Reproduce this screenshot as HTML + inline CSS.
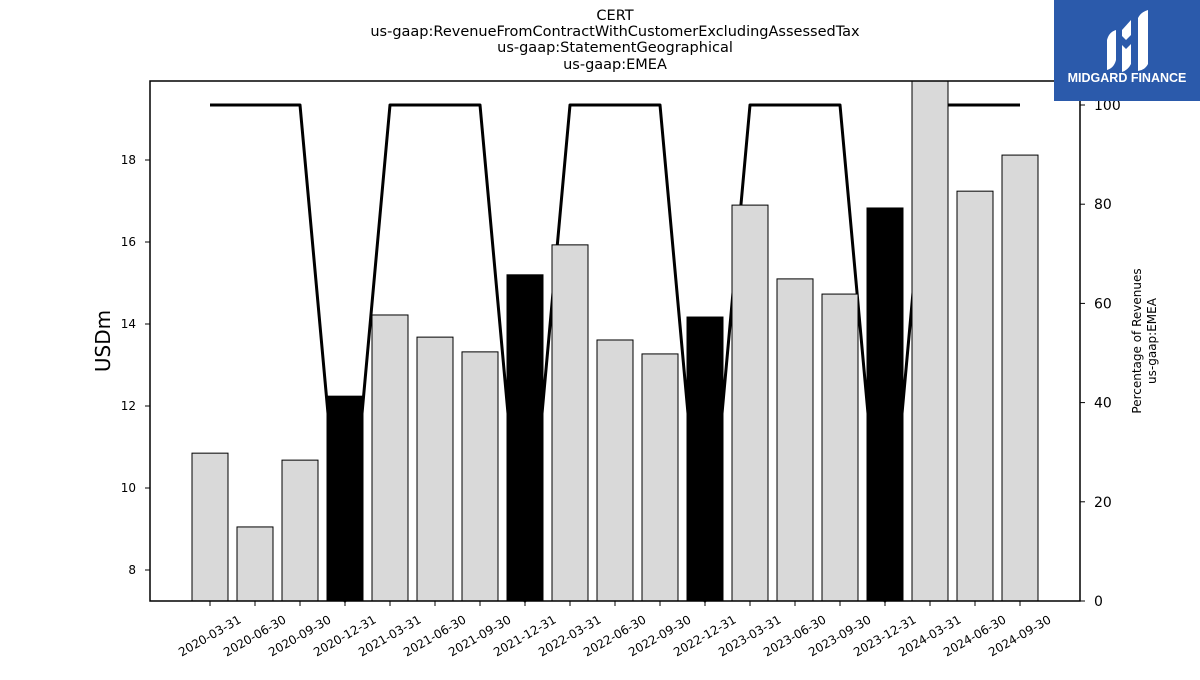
<!DOCTYPE html>
<html><head><meta charset="utf-8"><style>
body{margin:0;background:#fff;width:1200px;height:675px;overflow:hidden;font-family:"Liberation Sans","DejaVu Sans",sans-serif}
</style></head><body>
<svg id="chart" width="1200" height="675" xmlns="http://www.w3.org/2000/svg" font-family="DejaVu Sans, Liberation Sans, sans-serif">
<g font-size="14.5" text-anchor="middle" fill="#000">
<text x="615" y="20">CERT</text>
<text x="615" y="36">us-gaap:RevenueFromContractWithCustomerExcludingAssessedTax</text>
<text x="615" y="52">us-gaap:StatementGeographical</text>
<text x="615" y="69">us-gaap:EMEA</text>
</g>
<g id="line"></g><g id="bars"></g><g id="axes"></g>
<rect x="150" y="81" width="930" height="520" fill="none" stroke="#000" stroke-width="1.5"/>
<text x="110" y="341" font-size="20" text-anchor="middle" transform="rotate(-90 110 341)">USDm</text>
<g font-size="12" text-anchor="middle">
<text x="1141" y="341" transform="rotate(-90 1141 341)">Percentage of Revenues</text>
<text x="1156" y="341" transform="rotate(-90 1156 341)">us-gaap:EMEA</text>
</g>
<g>
<rect x="1054" y="0" width="146" height="101" fill="#2b5aab"/>
<path d="M1107 40 q2-8 9-10 v30 q-2 8-9 10z M1122 30 l9-10 v15 l-5 5 l-4-4z M1122 45 l4 4 l5-5 v20 q-3 6-9 8z M1138 18 q3-6 10-8 v54 q-3 6-10 7z" fill="#fff"/>
<text x="1127" y="82" font-size="12.5" font-weight="bold" fill="#fff" text-anchor="middle" font-family="Liberation Sans, sans-serif">MIDGARD FINANCE</text>
</g>
</svg>
<script>
const categories=["2020-03-31","2020-06-30","2020-09-30","2020-12-31","2021-03-31","2021-06-30","2021-09-30","2021-12-31","2022-03-31","2022-06-30","2022-09-30","2022-12-31","2023-03-31","2023-06-30","2023-09-30","2023-12-31","2024-03-31","2024-06-30","2024-09-30"];
const revenue=[10.85,9.05,10.68,12.24,14.22,13.68,13.32,15.2,15.93,13.61,13.27,14.17,16.9,15.1,14.73,16.83,20.5,17.24,18.12];
const percentage=[100,100,100,0,100,100,100,0,100,100,100,0,100,100,100,0,100,100,100];
const isQ4=[false,false,false,true,false,false,false,true,false,false,false,true,false,false,false,true,false,false,false];
const leftTicks=[8,10,12,14,16,18];
const rightTicks=[0,20,40,60,80,100];
const NS="http://www.w3.org/2000/svg";
const plotTop=81,plotBot=601;
const yL=v=>570-(v-8)*41;
const yR=v=>601-v*4.96;
const xC=i=>210+i*45;
function mk(t,a,p){const e=document.createElementNS(NS,t);for(const k in a)e.setAttribute(k,a[k]);p.appendChild(e);return e;}
const bars=document.getElementById('bars'),line=document.getElementById('line'),axes=document.getElementById('axes');
const pts=percentage.map((v,i)=>xC(i)+','+yR(v)).join(' ');
const pl=mk('polyline',{points:pts,fill:'none',stroke:'#000','stroke-width':3,'stroke-linejoin':'round'},line);


revenue.forEach((v,i)=>{
 const y=Math.max(yL(v),plotTop);
 const r=mk('rect',{x:xC(i)-18,y:y,width:36,height:plotBot-y,fill:isQ4[i]?'#000':'#d9d9d9',stroke:'#000','stroke-width':1},bars);
 
 
});
leftTicks.forEach(v=>{const y=yL(v);
 mk('line',{x1:145,x2:150,y1:y,y2:y,stroke:'#000'},axes);
 const t=mk('text',{x:136,y:y+4,'font-size':12,'text-anchor':'end'},axes);t.textContent=v;
 
 });
rightTicks.forEach(v=>{const y=yR(v);
 mk('line',{x1:1080,x2:1085,y1:y,y2:y,stroke:'#000'},axes);
 const t=mk('text',{x:1094,y:y+5,'font-size':14},axes);t.textContent=v;
 
 });
categories.forEach((c,i)=>{const x=xC(i);
 mk('line',{x1:x,x2:x,y1:601,y2:606,stroke:'#000'},axes);
 const t=mk('text',{x:x+32,y:622,'font-size':12,'text-anchor':'end',transform:`rotate(-30 ${x+32} 622)`},axes);t.textContent=c;
 
 });
</script>
</body></html>
